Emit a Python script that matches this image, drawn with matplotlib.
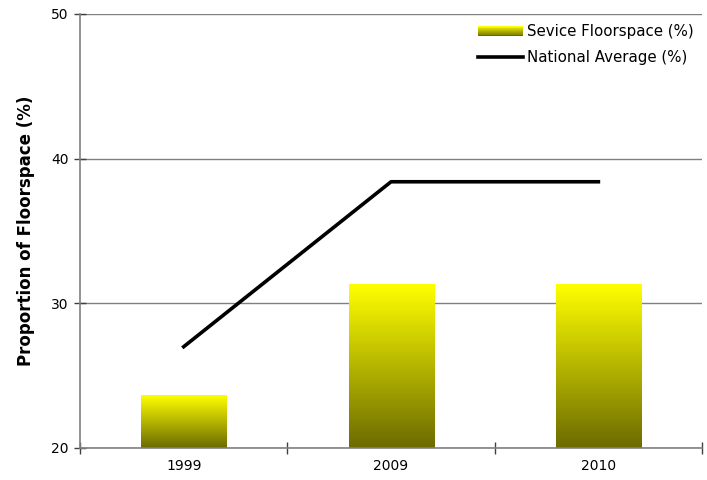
import numpy as np
import matplotlib.pyplot as plt
from matplotlib.colors import LinearSegmentedColormap
from matplotlib.legend_handler import HandlerBase
from matplotlib.patches import Rectangle
from matplotlib.lines import Line2D

years = ['1999', '2009', '2010']
service_floorspace = [23.6, 31.3, 31.3]
national_average = [27.0, 38.4, 38.4]

plt.rcParams['font.family'] = 'DejaVu Sans'
plt.rcParams['font.size'] = 10

grad = LinearSegmentedColormap.from_list('olive_yellow', ['#6b6b00', '#ffff00'])


class GradientHandler(HandlerBase):
    # legend swatch drawn as stacked strips so it shows the same fade as the bars
    def create_artists(self, legend, orig, xd, yd, w, h, fontsize, trans):
        n = 12
        out = []
        for k in range(n):
            r = Rectangle((xd, yd + h * k / n), w, h / n + 0.1,
                          facecolor=grad(k / (n - 1)), edgecolor='none',
                          transform=trans)
            out.append(r)
        return out


fig = plt.figure(figsize=(7.07, 4.8), dpi=100)
ax = fig.add_axes([0.1132, 0.0667, 0.8798, 0.9043])

x = np.arange(len(years))
width = 0.41
bars = ax.bar(x, service_floorspace, width, bottom=0, color='none', zorder=2)
ymin = 20
gimg = np.linspace(0, 1, 256).reshape(-1, 1)
for b, v in zip(bars, service_floorspace):
    x0 = b.get_x()
    ax.imshow(gimg, cmap=grad, origin='lower', aspect='auto',
              extent=[x0, x0 + width, ymin, v], zorder=2)

ax.plot(x, national_average, color='black', lw=2.6, zorder=3)

ax.set_xlim(-0.5, len(years) - 0.5)
ax.set_ylim(20, 50)
ax.set_yticks([20, 30, 40, 50])
ax.set_xticks(x)
ax.set_xticklabels(years)
ax.set_xticks([-0.5, 0.5, 1.5, 2.5], minor=True)
ax.tick_params(axis='x', which='major', length=0, pad=8)
ax.tick_params(axis='x', which='minor', direction='inout', length=8,
               color='#404040', width=1)
ax.tick_params(axis='y', direction='inout', length=8, color='#404040',
               width=1, pad=4)

ax.yaxis.grid(True, color='#808080', lw=1)
ax.set_axisbelow(True)
for s in ['top', 'right']:
    ax.spines[s].set_visible(False)
for s in ['left', 'bottom']:
    ax.spines[s].set_color('#808080')
    ax.spines[s].set_linewidth(1.2)

ax.set_ylabel('Proportion of Floorspace (%)', fontweight='bold', fontsize=12,
              labelpad=12)

handles = [Rectangle((0, 0), 1, 1), Line2D([], [], color='black', lw=2.6)]
ax.legend(handles, ['Sevice Floorspace (%)', 'National Average (%)'],
          handler_map={Rectangle: GradientHandler()},
          loc='upper right', bbox_to_anchor=(0.996, 0.99), frameon=False,
          handlelength=3.0, handletextpad=0.25, labelspacing=0.7,
          borderaxespad=0, fontsize=10.8)

fig.savefig('out.png', dpi=100)
